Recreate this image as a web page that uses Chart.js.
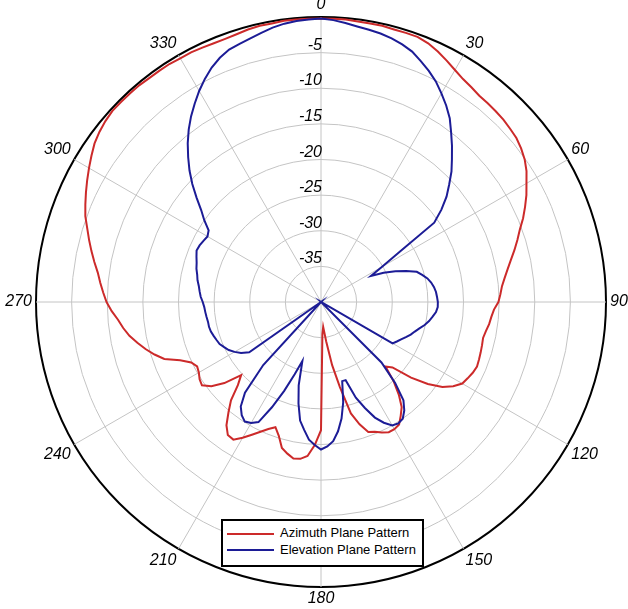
<!DOCTYPE html>
<html>
<head>
<meta charset="utf-8">
<title>Antenna pattern</title>
<script src="https://cdn.jsdelivr.net/npm/chart.js@4.4.1/dist/chart.umd.min.js"></script>
<style>
  html, body { margin: 0; padding: 0; background: #fff; overflow: hidden; }
  #wrap { position: relative; width: 628px; height: 609px; overflow: hidden; background: #fff; }
  #polar { position: absolute; left: -40px; top: -10px; }
  #legend {
    position: absolute; left: 221px; top: 519px; width: 203px; height: 48px;
    box-sizing: border-box; border: 2px solid #000; background: #fff;
    font: 13px "Liberation Sans", Arial, sans-serif; color: #000;
  }
  #legend .swatch { position: absolute; left: 4px; width: 47px; height: 2px; }
  #legend .txt { position: absolute; left: 57px; line-height: 16px; white-space: nowrap; }
</style>
</head>
<body>
<div id="wrap">
  <canvas id="polar" width="710" height="620"></canvas>
  <div id="legend">
    <div class="swatch" style="top:12px;background:#cc2a2a"></div>
    <div class="txt" style="top:4px">Azimuth Plane Pattern</div>
    <div class="swatch" style="top:28px;background:#1c1c96"></div>
    <div class="txt" style="top:21px">Elevation Plane Pattern</div>
  </div>
</div>
<script>
// angle categories, degrees clockwise from top (one row = 30 degrees)
const angles = [
  '0','2.5','5','7.5','10','12.5','15','17.5','20','22.5','25','27.5',
  '30','32.5','35','37.5','40','42.5','45','47.5','50','52.5','55','57.5',
  '60','62.5','65','67.5','70','72.5','75','77.5','80','82.5','85','87.5',
  '90','92.5','95','97.5','100','102.5','105','107.5','110','112.5','115','117.5',
  '120','122.5','125','127.5','130','132.5','135','137.5','140','142.5','145','147.5',
  '150','152.5','155','157.5','160','162.5','165','167.5','170','172.5','175','177.5',
  '180','182.5','185','187.5','190','192.5','195','197.5','200','202.5','205','207.5',
  '210','212.5','215','217.5','220','222.5','225','227.5','230','232.5','235','237.5',
  '240','242.5','245','247.5','250','252.5','255','257.5','260','262.5','265','267.5',
  '270','272.5','275','277.5','280','282.5','285','287.5','290','292.5','295','297.5',
  '300','302.5','305','307.5','310','312.5','315','317.5','320','322.5','325','327.5',
  '330','332.5','335','337.5','340','342.5','345','347.5','350','352.5','355','357.5'];

// dB values
const azimuth = [
  -0.2,-0.2,-0.2,-0.3,-0.3,-0.3,-0.4,-0.4,-0.4,-0.7,-1.2,-1.8,
  -2.4,-2.9,-3.2,-3.5,-3.6,-3.7,-3.8,-4.0,-4.2,-4.6,-5.1,-5.8,
  -6.7,-7.5,-8.4,-9.3,-10.3,-11.1,-11.9,-12.7,-13.4,-14.0,-14.5,-14.8,
  -15.1,-15.7,-16.0,-16.2,-16.5,-16.7,-16.6,-16.5,-16.4,-16.3,-16.5,-16.8,
  -17.1,-18.0,-19.2,-21.1,-23.5,-26.4,-27.2,-24.9,-23.0,-21.4,-20.5,-19.6,
  -19.4,-19.4,-19.8,-20.3,-20.6,-22.0,-23.8,-27.8,-31.0,-34.4,-36.5,-35.5,
  -22.0,-19.9,-18.3,-17.8,-17.7,-18.2,-18.8,-20.3,-21.3,-20.7,-19.9,-19.0,
  -18.0,-17.1,-17.2,-18.2,-19.8,-21.3,-23.5,-24.8,-22.3,-20.6,-19.6,-19.8,
  -20.2,-20.4,-19.9,-18.6,-16.6,-15.5,-14.5,-13.6,-12.7,-12.0,-11.4,-10.6,
  -9.9,-9.4,-8.9,-8.4,-7.7,-7.0,-6.3,-5.6,-4.8,-4.2,-3.6,-3.0,
  -2.4,-1.8,-1.2,-0.8,-0.5,-0.3,-0.3,-0.3,-0.3,-0.4,-0.4,-0.4,
  -0.5,-0.5,-0.6,-0.7,-0.7,-0.6,-0.4,-0.3,-0.3,-0.2,-0.2,-0.2];

const elevation = [
  -0.2,-0.4,-0.7,-1.0,-1.2,-1.4,-1.7,-2.1,-2.6,-3.4,-4.2,-5.1,
  -6.2,-7.3,-8.5,-10.0,-11.4,-12.8,-14.1,-15.6,-17.0,-18.7,-20.6,-26.9,
  -30.1,-32.1,-30.3,-28.7,-27.3,-25.9,-25.3,-24.7,-24.3,-24.0,-23.8,-23.7,
  -23.6,-23.6,-23.8,-24.2,-24.6,-25.1,-25.7,-26.2,-26.6,-27.1,-27.6,-28.0,
  -28.4,-40,-40,-40,-40,-40,-28.0,-24.6,-22.0,-20.8,-20.0,-19.8,
  -20.0,-20.9,-22.1,-23.9,-25.7,-28.5,-28.5,-25.6,-23.4,-21.7,-20.4,-19.7,
  -19.3,-19.9,-20.6,-21.9,-23.1,-25.4,-27.9,-31.3,-29.2,-26.5,-23.7,-21.0,
  -20.4,-20.1,-20.6,-21.5,-23.4,-28.0,-40,-40,-40,-40,-27.7,-26.7,
  -26.0,-25.4,-25.0,-24.6,-24.4,-24.2,-24.0,-23.9,-23.9,-23.8,-23.7,-23.6,
  -23.4,-23.1,-22.9,-22.7,-22.4,-22.2,-21.9,-21.7,-21.4,-21.1,-21.2,-21.4,
  -21.6,-21.3,-20.0,-18.8,-17.2,-15.5,-13.9,-12.4,-10.9,-9.5,-8.2,-7.0,
  -5.8,-4.7,-3.7,-2.9,-2.3,-2.0,-1.7,-1.3,-0.9,-0.6,-0.4,-0.3];

// ring labels along the 0 degree spoke
const ringValues = [-5, -10, -15, -20, -25, -30, -35];

const labelFont = '"Liberation Sans", Arial, sans-serif';

// draws the dB ring labels just above each ring, right aligned on the spoke
const ringLabels = {
  id: 'ringLabels',
  beforeDatasetsDraw(chart) {
    const r = chart.scales.r;
    const ctx = chart.ctx;
    ctx.save();
    ctx.font = 'italic 16px ' + labelFont;
    ctx.fillStyle = '#000';
    ctx.textAlign = 'right';
    ctx.textBaseline = 'alphabetic';
    ringValues.forEach(function (v) {
      const d = r.getDistanceFromCenterForValue(v);
      ctx.fillText(String(v), r.xCenter + 1, r.yCenter - d - 3);
    });
    ctx.restore();
  }
};

const chart = new Chart(document.getElementById('polar'), {
  type: 'radar',
  data: {
    labels: angles,
    datasets: [
      {
        label: 'Elevation Plane Pattern',
        data: elevation,
        borderColor: '#1c1c96',
        borderWidth: 2,
        fill: false
      },
      {
        label: 'Azimuth Plane Pattern',
        data: azimuth,
        borderColor: '#cc2a2a',
        borderWidth: 2,
        fill: false
      }
    ]
  },
  options: {
    responsive: false,
    devicePixelRatio: 1,
    animation: false,
    layout: { autoPadding: false, padding: { left: 20, right: 8, top: 7, bottom: 3 } },
    elements: {
      line: { tension: 0 },
      point: { radius: 0, hoverRadius: 0 }
    },
    plugins: {
      legend: { display: false },
      tooltip: { enabled: false }
    },
    scales: {
      r: {
        min: -40,
        max: 0,
        ticks: { stepSize: 5, display: false },
        grid: {
          circular: true,
          color: function (c) { return c.tick && c.tick.value === 0 ? '#000' : '#c4c4c4'; },
          lineWidth: function (c) { return c.tick && c.tick.value === 0 ? 2 : 1; }
        },
        angleLines: {
          color: '#c4c4c4',
          lineWidth: function (c) { return c.index % 12 === 0 ? 1 : 0; }
        },
        pointLabels: {
          padding: 4,
          color: '#000',
          font: { family: labelFont, size: 16, style: 'italic', lineHeight: 1 },
          callback: function (label, i) { return i % 12 === 0 ? label : ''; }
        }
      }
    }
  },
  plugins: [ringLabels]
});
</script>
</body>
</html>
